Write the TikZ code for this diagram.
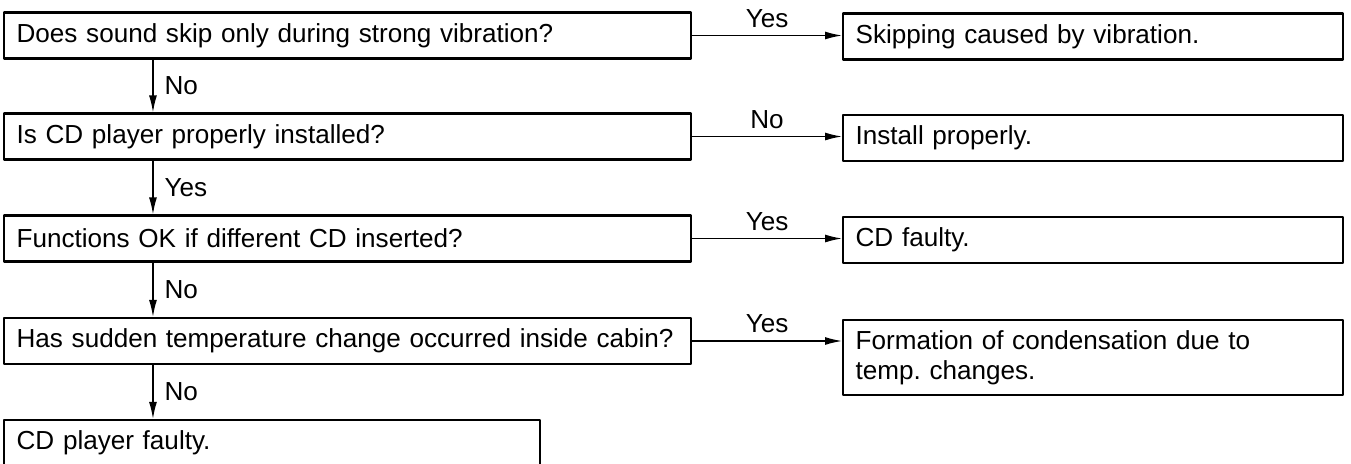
\documentclass[tikz,border=0pt]{standalone}
\usepackage{fontspec}
\setmainfont{Liberation Sans}
\usetikzlibrary{arrows.meta}
\begin{document}
\frenchspacing
\begin{tikzpicture}[x=0.02cm, y=-0.02cm, >={Latex[length=0.34cm,width=0.16cm]}, font=\fontsize{14.85}{17}\selectfont, line join=round, line cap=round,
	qbox/.style={draw, line width=1.3pt, anchor=west, align=left, inner xsep=0.25cm, inner ysep=0pt, minimum height=0.92cm, text width=13.24cm},
	abox/.style={qbox, text width=9.5cm},
	arr/.style={->, line width=0.8pt}]
			\def\xl{3} \def\xr{842} % left edges of the columns
			\clip (0,0) rectangle (1351,463);
			% questions
			\node[qbox] (q1) at (\xl,35.5) {Does sound skip only during strong vibration?};
			\node[qbox] (q2) at (\xl,136.5) {Is CD player properly installed?};
			\node[qbox] (q3) at (\xl,238.5) {Functions OK if different CD inserted?};
			\node[qbox] (q4) at (\xl,341) {\mbox{Has sudden temperature change occurred inside cabin?}};
			\node[qbox, text width=10.22cm] (q5) at (\xl,443) {CD player faulty.};
			% answers
			\node[abox] (a1) at (\xr,36.5) {Skipping caused by vibration.};
			\node[abox] (a2) at (\xr,138) {Install properly.};
			\node[abox] (a3) at (\xr,240) {CD faulty.};
			\node[abox, minimum height=1.5cm] (a4) at (\xr,357.5) {Formation of condensation due to\\temp. changes.};
			% branches to the right
			\draw[arr] (q1.east) -- (q1.east -| a1.west) node[midway, anchor=base, yshift=0.17cm]{Yes};
			\draw[arr] (q2.east) -- (q2.east -| a2.west) node[midway, anchor=base, yshift=0.17cm]{No};
			\draw[arr] (q3.east) -- (q3.east -| a3.west) node[midway, anchor=base, yshift=0.17cm]{Yes};
			\draw[arr] (q4.east) -- (q4.east -| a4.west) node[midway, anchor=base, yshift=0.17cm]{Yes};
			% branches down
			\draw[arr] ([xshift=3cm]q1.south west) -- ([xshift=3cm]q2.north west) node[midway, right, xshift=0.1cm]{No};
			\draw[arr] ([xshift=3cm]q2.south west) -- ([xshift=3cm]q3.north west) node[midway, right, xshift=0.1cm]{Yes};
			\draw[arr] ([xshift=3cm]q3.south west) -- ([xshift=3cm]q4.north west) node[midway, right, xshift=0.1cm]{No};
			\draw[arr] ([xshift=3cm]q4.south west) -- ([xshift=3cm]q5.north west) node[midway, right, xshift=0.1cm]{No};
	\end{tikzpicture}
\end{document}
